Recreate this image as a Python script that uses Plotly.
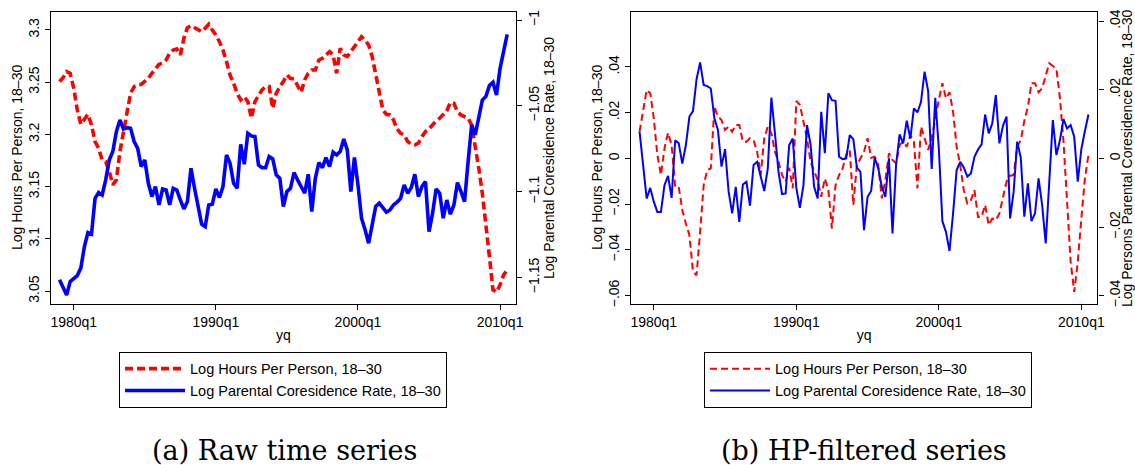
import plotly.graph_objects as go

# quarters 1979q1 .. 2010q3
quarters = [f"{1979 + i // 4}q{i % 4 + 1}" for i in range(127)]

hours_raw = [3.2506,3.2544,3.2601,3.2585,3.2442,3.2234,3.2097,3.2139,3.2193,3.2091,
 3.1932,3.1868,3.1756,3.1740,3.1645,3.1517,3.1565,3.1836,3.2027,3.2187,
 3.2394,3.2458,3.2474,3.2480,3.2506,3.2537,3.2585,3.2633,3.2671,3.2681,
 3.2713,3.2777,3.2808,3.2818,3.2761,3.2920,3.3022,3.3041,3.3022,3.3000,
 3.2984,3.3016,3.3054,3.3000,3.2952,3.2888,3.2808,3.2697,3.2569,3.2490,
 3.2394,3.2330,3.2362,3.2314,3.2155,3.2314,3.2378,3.2426,3.2458,3.2458,
 3.2250,3.2394,3.2458,3.2506,3.2569,3.2537,3.2531,3.2474,3.2403,3.2521,
 3.2585,3.2617,3.2617,3.2713,3.2729,3.2761,3.2792,3.2761,3.2585,3.2824,
 3.2761,3.2745,3.2792,3.2840,3.2895,3.2936,3.2904,3.2856,3.2745,3.2585,
 3.2394,3.2234,3.2193,3.2187,3.2139,3.2053,3.2011,3.1995,3.1932,3.1906,
 3.1900,3.1916,3.1979,3.2027,3.2053,3.2097,3.2129,3.2155,3.2187,3.2225,
 3.2308,3.2298,3.2218,3.2187,3.2171,3.2155,3.2091,3.1900,3.1676,3.1437,
 3.1166,3.0831,3.0512,3.0490,3.0560,3.0656,3.0704]

coresid_raw = [-1.1513,-1.1558,-1.1601,-1.1523,-1.1504,-1.1488,-1.1445,-1.1319,-1.1238,-1.1247,
 -1.1038,-1.1005,-1.1019,-1.0931,-1.0815,-1.0766,-1.0650,-1.0582,-1.0634,-1.0627,
 -1.0631,-1.0708,-1.0747,-1.0854,-1.0815,-1.0951,-1.1028,-1.0970,-1.1077,-1.0984,
 -1.0990,-1.1077,-1.0980,-1.0990,-1.1048,-1.1100,-1.1058,-1.0863,-1.0980,-1.1096,
 -1.1189,-1.1203,-1.1077,-1.1073,-1.0984,-1.1034,-1.0970,-1.0786,-1.0834,-1.0951,
 -1.0980,-1.0724,-1.0840,-1.0660,-1.0675,-1.0679,-1.0844,-1.0860,-1.0860,-1.0795,
 -1.0809,-1.0902,-1.0922,-1.1086,-1.0999,-1.0980,-1.0889,-1.0931,-1.0970,-1.1009,
 -1.0898,-1.1116,-1.0922,-1.0830,-1.0860,-1.0801,-1.0854,-1.0770,-1.0786,-1.0766,
 -1.0693,-1.0757,-1.0999,-1.0801,-1.0960,-1.1154,-1.1222,-1.1300,-1.1193,-1.1086,
 -1.1067,-1.1092,-1.1119,-1.1106,-1.1077,-1.1061,-1.1038,-1.0960,-1.1009,-1.0976,
 -1.0898,-1.1028,-1.0970,-1.0941,-1.1232,-1.1125,-1.0984,-1.1009,-1.1154,-1.1048,
 -1.1131,-1.1077,-1.0947,-1.0999,-1.1058,-1.0825,-1.0611,-1.0669,-1.0572,-1.0466,
 -1.0446,-1.0382,-1.0363,-1.0437,-1.0281,-1.0184,-1.0083]

hours_hp = [0.0117,0.0204,0.0299,0.0285,0.0175,0.0015,-0.0073,0.0044,0.0112,0.0058,
 -0.0124,-0.0124,-0.0226,-0.0285,-0.0336,-0.0496,-0.0511,-0.0321,-0.0117,-0.0051,
 -0.0044,0.0226,0.0183,0.0168,0.0124,0.0139,0.0117,0.0146,0.0146,0.0073,
 0.0073,0.0088,0.0080,0.0029,-0.0073,0.0088,0.0139,0.0110,0.0029,-0.0015,
 -0.0073,-0.0102,-0.0041,-0.0131,0.0251,0.0234,0.0168,0.0088,-0.0015,-0.0051,
 -0.0095,-0.0168,-0.0088,-0.0139,-0.0307,-0.0117,-0.0073,-0.0044,0.0015,0.0037,
 -0.0204,-0.0029,-0.0003,0.0029,0.0088,0.0003,0.0007,-0.0029,-0.0175,-0.0095,
 0.0022,-0.0007,-0.0022,0.0058,0.0073,0.0051,0.0102,0.0073,-0.0131,0.0139,
 0.0088,0.0037,0.0088,0.0175,0.0256,0.0329,0.0263,0.0289,0.0204,0.0051,
 -0.0029,-0.0139,-0.0197,-0.0183,-0.0139,-0.0256,-0.0256,-0.0204,-0.0292,-0.0263,
 -0.0270,-0.0241,-0.0175,-0.0102,-0.0076,-0.0073,0.0051,0.0080,0.0164,0.0226,
 0.0329,0.0329,0.0289,0.0307,0.0362,0.0416,0.0404,0.0391,0.0263,0.0073,
 -0.0190,-0.0453,-0.0584,-0.0453,-0.0263,-0.0088,0.0015]

coresid_hp = [0.0078,-0.0029,-0.0117,-0.0086,-0.0126,-0.0156,-0.0156,-0.0078,-0.0051,-0.0115,
 0.0053,0.0044,-0.0015,0.0039,0.0122,0.0138,0.0231,0.0280,0.0214,0.0211,
 0.0204,0.0117,0.0083,-0.0024,0.0027,-0.0097,-0.0160,-0.0083,-0.0185,-0.0076,
 -0.0068,-0.0138,-0.0019,-0.0010,-0.0053,-0.0095,-0.0029,0.0177,0.0073,-0.0039,
 -0.0104,-0.0102,0.0039,0.0058,-0.0086,-0.0144,-0.0078,0.0097,0.0041,-0.0083,
 -0.0117,0.0136,0.0015,0.0190,0.0170,0.0168,0.0005,-0.0002,0.0000,0.0068,
 0.0056,-0.0027,-0.0039,-0.0209,-0.0112,-0.0095,0.0002,-0.0029,-0.0083,-0.0112,
 0.0000,-0.0219,-0.0019,0.0070,0.0044,0.0110,0.0058,0.0146,0.0134,0.0165,
 0.0253,0.0196,-0.0031,0.0177,0.0029,-0.0183,-0.0214,-0.0270,-0.0160,-0.0034,
 -0.0010,-0.0026,-0.0053,-0.0044,0.0005,0.0026,0.0041,0.0128,0.0073,0.0102,
 0.0185,0.0044,0.0095,0.0122,-0.0175,-0.0097,0.0049,0.0002,-0.0170,-0.0073,
 -0.0183,-0.0160,-0.0058,-0.0136,-0.0248,-0.0068,0.0112,0.0010,0.0053,0.0115,
 0.0087,0.0097,0.0063,-0.0068,0.0027,0.0080,0.0128]

x_tick_vals = [1980, 1990, 2000, 2010]
x_tick_text = ["1980q1", "1990q1", "2000q1", "2010q1"]
raw_left_ticks = [3.05, 3.1, 3.15, 3.2, 3.25, 3.3]
raw_left_text = ["3.05", "3.1", "3.15", "3.2", "3.25", "3.3"]
raw_right_ticks = [-1.15, -1.1, -1.05, -1.0]
raw_right_text = ["\u22121.15", "\u22121.1", "\u22121.05", "\u22121"]
hp_left_ticks = [-0.06, -0.04, -0.02, 0, 0.02, 0.04]
hp_left_text = ["\u2212.06", "\u2212.04", "\u2212.02", "0", ".02", ".04"]
hp_right_ticks = [-0.04, -0.02, 0, 0.02, 0.04]
hp_right_text = ["\u2212.04", "\u2212.02", "0", ".02", ".04"]

xnum = [int(q[:4]) + (int(q[-1]) - 1) / 4 for q in quarters]

FONT = "Liberation Sans"
RED = "#ff0000"
BLUE = "#0000ff"
W, H = 1135, 465

fig = go.Figure()
fig.add_trace(go.Scatter(x=xnum, y=hours_raw, mode="lines", name="Log Hours Per Person, 18\u201330",
                         line=dict(color=RED, width=3.6, dash="8px,4px"), xaxis="x", yaxis="y", legend="legend"))
fig.add_trace(go.Scatter(x=xnum, y=coresid_raw, mode="lines", name="Log Parental Coresidence Rate, 18\u201330",
                         line=dict(color=BLUE, width=3.6), xaxis="x", yaxis="y2", legend="legend"))
fig.add_trace(go.Scatter(x=xnum, y=hours_hp, mode="lines", name="Log Hours Per Person, 18\u201330",
                         line=dict(color=RED, width=2, dash="7px,4px"), xaxis="x2", yaxis="y3", legend="legend2"))
fig.add_trace(go.Scatter(x=xnum, y=coresid_hp, mode="lines", name="Log Parental Coresidence Rate, 18\u201330",
                         line=dict(color=BLUE, width=2), xaxis="x2", yaxis="y4", legend="legend2"))

ydom = [1 - 304.2 / H, 1 - 12.3 / H]
xr = [1978.40, 2011.12]
tf = dict(family=FONT, size=14, color="black")
lf = dict(family=FONT, size=14.5, color="black")

common_x = dict(range=xr, tickvals=x_tick_vals, ticktext=x_tick_text, showline=True, mirror=True,
                linecolor="black", linewidth=1.4, ticks="outside", ticklen=5, tickcolor="black",
                showgrid=False, zeroline=False, tickfont=tf, automargin=False,
                title=dict(text="yq", font=tf, standoff=0))
common_y = dict(showline=True, linecolor="black", linewidth=1.4, ticks="outside", ticklen=5,
                tickcolor="black", showgrid=False, zeroline=False, tickfont=tf, tickangle=-90,
                automargin=False, domain=ydom)

fig.update_layout(
    width=W, height=H,
    margin=dict(l=0, r=0, t=0, b=0),
    paper_bgcolor="white", plot_bgcolor="white",
    font=dict(family=FONT, size=14, color="black"),
    xaxis=dict(domain=[51 / W, 516 / W], anchor="y", **common_x),
    xaxis2=dict(domain=[631 / W, 1097.3 / W], anchor="y3", **common_x),
    yaxis=dict(anchor="x", side="left", range=[3.0375, 3.3169], tickvals=raw_left_ticks,
               ticktext=raw_left_text, **common_y),
    yaxis2=dict(anchor="x", overlaying="y", side="right", range=[-1.1655, -0.9955], tickvals=raw_right_ticks,
                ticktext=raw_right_text, **common_y),
    yaxis3=dict(anchor="x2", side="left", range=[-0.0638, 0.0639], tickvals=hp_left_ticks,
                ticktext=hp_left_text, **common_y),
    yaxis4=dict(anchor="x2", overlaying="y3", side="right", range=[-0.0425, 0.0426], tickvals=hp_right_ticks,
                ticktext=hp_right_text, **common_y),
    legend=dict(x=283 / W, y=1 - 351.7 / H, xanchor="center", yanchor="top", bordercolor="black",
                borderwidth=1, bgcolor="white", font=lf, traceorder="normal", itemwidth=60),
    legend2=dict(x=868 / W, y=1 - 351.7 / H, xanchor="center", yanchor="top", bordercolor="black",
                 borderwidth=1, bgcolor="white", font=lf, traceorder="normal", itemwidth=60),
    showlegend=True,
)

# y-axis titles (rotated, reading bottom-to-top as in the reference)
ymid = 1 - 158 / H
for txt, xpx in [("Log Hours Per Person, 18\u201330", 17),
                 ("Log Parental Coresidence Rate, 18\u201330", 549),
                 ("Log Hours Per Person, 18\u201330", 597),
                 ("Log Persons Parental Coresidence Rate, 18\u201330", 1127)]:
    fig.add_annotation(text=txt, x=xpx / W, y=ymid, xref="paper", yref="paper", textangle=-90,
                       showarrow=False, xanchor="center", yanchor="middle", font=tf)

# panel captions
for txt, xpx in [("(a) Raw time series", 284), ("(b) HP-filtered series", 863.5)]:
    fig.add_annotation(text=txt, x=xpx / W, y=1 - 450 / H, xref="paper", yref="paper",
                       showarrow=False, xanchor="center", yanchor="middle",
                       font=dict(family="DejaVu Serif", size=27, color="black"))

fig.write_html("out.html", config={"displayModeBar": False},
               post_script="document.body.style.margin='0';")
